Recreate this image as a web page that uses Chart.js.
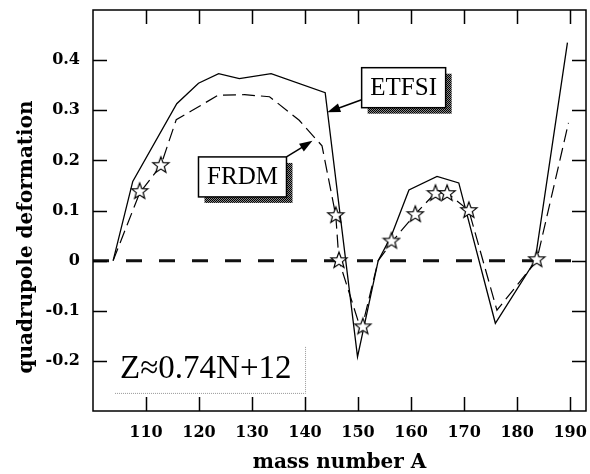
<!DOCTYPE html>
<html>
<head>
<meta charset="utf-8">
<script src="https://cdn.jsdelivr.net/npm/chart.js@4/dist/chart.umd.min.js"></script>
<style>
  html, body { margin: 0; padding: 0; background: #fff; }
  #wrap { width: 590px; height: 474px; }
</style>
</head>
<body>
<div id="wrap"><canvas id="deform"></canvas></div>
<script>
// ETFSI (solid line)
const etfsiA = [103.8, 107.5, 115.8, 119.9, 123.7, 127.6, 133.6, 143.8, 149.9, 153.8, 156.3, 159.6, 164.9, 169.0, 175.9, 183.4, 189.5];
const etfsiQ = [0, 0.158, 0.313, 0.354, 0.373, 0.363, 0.373, 0.335, -0.192, 0, 0.05, 0.141, 0.168, 0.155, -0.125, 0, 0.435];
// FRDM (dashed line)
const frdmA = [103.8, 108.8, 112.8, 115.7, 118.6, 123.6, 128.6, 133.3, 138.9, 143.2, 145.8, 146.4, 150.6, 153.8, 156.6, 160.8, 164.6, 166.8, 170.9, 176.2, 183.7, 189.7];
const frdmQ = [0, 0.135, 0.19, 0.281, 0.299, 0.33, 0.331, 0.327, 0.28, 0.229, 0.09, 0.0, -0.14, 0.0, 0.04, 0.093, 0.135, 0.135, 0.1, -0.099, 0, 0.275];
// stars
const starA = [108.8, 112.8, 145.8, 146.4, 150.9, 156.3, 160.8, 164.6, 166.8, 170.9, 183.7];
const starQ = [0.139, 0.191, 0.091, 0.001, -0.131, 0.04, 0.093, 0.135, 0.135, 0.101, 0.003];
// zero reference
const zeroA = [100, 193];
const zeroQ = [0, 0];

const xTicks = [110, 120, 130, 140, 150, 160, 170, 180, 190];
const yTicks = [-0.2, -0.1, 0, 0.1, 0.2, 0.3, 0.4];

const SERIF = "'DejaVu Serif', serif";
const TIMES = "'Liberation Serif', 'Times New Roman', serif";

function pts(xs, ys) { return xs.map((x, i) => ({x: x, y: ys[i]})); }

// white star with black outline
function makeStar() {
  const c = document.createElement('canvas');
  c.width = 20; c.height = 20;
  const g = c.getContext('2d');
  g.beginPath();
  for (let i = 0; i < 10; i++) {
    const r = i % 2 === 0 ? 8.5 : 3.6;
    const a = -Math.PI / 2 + i * Math.PI / 5;
    const px = 10 + r * Math.cos(a), py = 10.5 + r * Math.sin(a);
    if (i === 0) g.moveTo(px, py); else g.lineTo(px, py);
  }
  g.closePath();
  g.fillStyle = '#fff';
  g.fill();
  g.lineWidth = 1.2;
  g.strokeStyle = '#000';
  g.stroke();
  return c;
}

function shadowPattern(ctx) {
  const c = document.createElement('canvas');
  c.width = 2; c.height = 2;
  const g = c.getContext('2d');
  g.fillStyle = '#888'; g.fillRect(0, 0, 2, 2);
  g.fillStyle = '#000'; g.fillRect(0, 0, 1, 1); g.fillRect(1, 1, 1, 1);
  return ctx.createPattern(c, 'repeat');
}

function arrow(ctx, x0, y0, x1, y1) {
  const a = Math.atan2(y1 - y0, x1 - x0);
  ctx.beginPath();
  ctx.moveTo(x0, y0);
  ctx.lineTo(x1 - 8 * Math.cos(a), y1 - 8 * Math.sin(a));
  ctx.lineWidth = 1.5;
  ctx.stroke();
  ctx.beginPath();
  ctx.moveTo(x1, y1);
  ctx.lineTo(x1 - 13 * Math.cos(a) + 4.5 * Math.sin(a), y1 - 13 * Math.sin(a) - 4.5 * Math.cos(a));
  ctx.lineTo(x1 - 13 * Math.cos(a) - 4.5 * Math.sin(a), y1 - 13 * Math.sin(a) + 4.5 * Math.cos(a));
  ctx.closePath();
  ctx.fill();
}

function labelBox(ctx, text, cx, cy, w, h) {
  const l = cx - w / 2, t = cy - h / 2;
  ctx.fillStyle = shadowPattern(ctx);
  ctx.fillRect(l + 6, t + 6, w, h);
  ctx.fillStyle = '#fff';
  ctx.fillRect(l, t, w, h);
  ctx.strokeStyle = '#000';
  ctx.lineWidth = 1.5;
  ctx.strokeRect(l, t, w, h);
  ctx.fillStyle = '#000';
  ctx.font = '25px ' + TIMES;
  ctx.textAlign = 'center';
  ctx.textBaseline = 'middle';
  ctx.fillText(text, cx, cy + 1);
  return {l: l, t: t, r: l + w, b: t + h};
}

function noPad(s) {
  s.paddingLeft = 0; s.paddingRight = 0; s.paddingTop = 0; s.paddingBottom = 0;
}

const decor = {
  id: 'decor',
  afterDraw(chart) {
    const ctx = chart.ctx;
    const xs = chart.scales.x, ys = chart.scales.y;
    const a = chart.chartArea;
    ctx.save();
    ctx.strokeStyle = '#000';
    ctx.fillStyle = '#000';

    // frame
    ctx.lineWidth = 1.5;
    ctx.strokeRect(a.left, a.top, a.right - a.left, a.bottom - a.top);

    // inward ticks on all four sides
    ctx.lineWidth = 1.5;
    ctx.beginPath();
    xTicks.forEach(v => {
      const px = Math.round(xs.getPixelForValue(v)) + 0.5;
      ctx.moveTo(px, a.bottom); ctx.lineTo(px, a.bottom - 14);
      ctx.moveTo(px, a.top); ctx.lineTo(px, a.top + 14);
    });
    yTicks.forEach(v => {
      const py = Math.round(ys.getPixelForValue(v)) + 0.5;
      ctx.moveTo(a.left, py); ctx.lineTo(a.left + 14, py);
      ctx.moveTo(a.right, py); ctx.lineTo(a.right - 14, py);
    });
    ctx.stroke();

    // y title
    ctx.save();
    ctx.translate(27, 237);
    ctx.rotate(-Math.PI / 2);
    ctx.font = 'bold 20px ' + SERIF;
    ctx.textAlign = 'center';
    ctx.textBaseline = 'middle';
    ctx.fillText('quadrupole deformation', 0, 0);
    ctx.restore();

    // ETFSI label + arrow
    let b = labelBox(ctx, 'ETFSI', xs.getPixelForValue(158.6), ys.getPixelForValue(0.345), 84, 40);
    ctx.fillStyle = '#000';
    arrow(ctx, b.l, b.t + 32, xs.getPixelForValue(144.2), ys.getPixelForValue(0.296));

    // FRDM label + arrow
    b = labelBox(ctx, 'FRDM', xs.getPixelForValue(128.2), ys.getPixelForValue(0.167), 88, 40);
    ctx.fillStyle = '#000';
    arrow(ctx, b.r, b.t, xs.getPixelForValue(141.4), ys.getPixelForValue(0.239));

    // relation label with dotted frame
    const zx = xs.getPixelForValue(105.1), zy = ys.getPixelForValue(-0.234);
    ctx.font = '33px ' + TIMES;
    ctx.textAlign = 'left';
    ctx.textBaseline = 'alphabetic';
    ctx.fillText('Z\u22480.74N+12', zx, zy);
    ctx.strokeStyle = '#999';
    ctx.lineWidth = 1;
    ctx.setLineDash([1, 1]);
    ctx.beginPath();
    ctx.moveTo(zx - 5, zy + 15.5); ctx.lineTo(zx + 185.5, zy + 15.5);
    ctx.lineTo(zx + 185.5, zy - 31);
    ctx.stroke();
    ctx.restore();
  }
};

new Chart(document.getElementById('deform'), {
  type: 'line',
  data: {
    datasets: [
      {
        label: 'stars',
        data: pts(starA, starQ),
        showLine: false,
        pointStyle: makeStar(),
        pointRadius: 1,
        pointBorderWidth: 0
      },
      {
        label: 'ETFSI',
        data: pts(etfsiA, etfsiQ),
        borderColor: '#000',
        borderWidth: 1.3,
        pointRadius: 0,
        tension: 0
      },
      {
        label: 'FRDM',
        data: pts(frdmA, frdmQ),
        borderColor: '#000',
        borderWidth: 1.2,
        borderDash: [13, 6],
        pointRadius: 0,
        tension: 0
      },
      {
        label: 'zero',
        data: pts(zeroA, zeroQ),
        borderColor: '#111',
        borderWidth: 3,
        borderDash: [16, 17],
        pointRadius: 0
      }
    ]
  },
  options: {
    responsive: true,
    maintainAspectRatio: false,
    animation: false,
    events: [],
    layout: { padding: { top: 10, right: 2, left: 0, bottom: 0 } },
    plugins: { legend: { display: false }, tooltip: { enabled: false } },
    scales: {
      x: {
        type: 'linear',
        min: 100,
        max: 193,
        afterBuildTicks: s => { s.ticks = xTicks.map(v => ({value: v})); },
        afterFit: s => { s.height = 63; noPad(s); },
        grid: { display: false, drawTicks: false },
        border: { display: false },
        ticks: {
          color: '#000',
          padding: 12,
          font: { family: SERIF, size: 16, weight: 'bold' },
          callback: v => String(v)
        },
        title: {
          display: true,
          text: 'mass number A',
          color: '#000',
          font: { family: SERIF, size: 20, weight: 'bold', lineHeight: 1 },
          padding: { top: 0, bottom: 1 }
        }
      },
      y: {
        type: 'linear',
        min: -0.3,
        max: 0.5,
        afterBuildTicks: s => { s.ticks = yTicks.map(v => ({value: v})); },
        afterFit: s => { s.width = 93; noPad(s); },
        grid: { display: false, drawTicks: false },
        border: { display: false },
        ticks: {
          color: '#000',
          padding: 13,
          font: { family: SERIF, size: 16, weight: 'bold' },
          callback: v => (v === 0 ? '0' : v.toFixed(1))
        }
      }
    }
  },
  plugins: [decor]
});
</script>
</body>
</html>
